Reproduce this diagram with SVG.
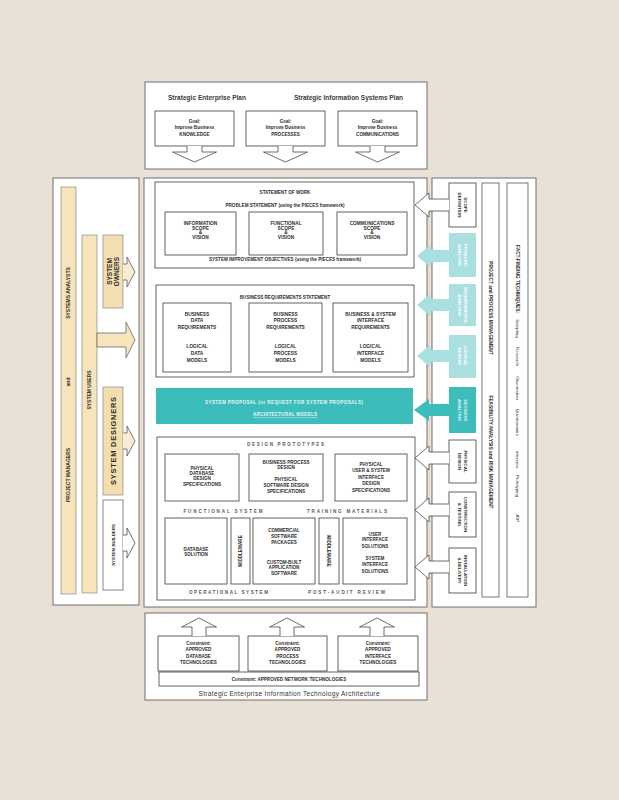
<svg xmlns="http://www.w3.org/2000/svg" width="619" height="800" viewBox="0 0 619 800">
<defs>
<style>
.bg{fill:#e9e1d6}
.panel{fill:#fff;stroke:#6e6e6e;stroke-width:1}
.box{fill:#fff;stroke:#3c3c3c;stroke-width:0.8}
.yel{fill:#f6e4bb;stroke:#8a8a8a;stroke-width:0.7}
.tl{fill:#a9e0df}
.td{fill:#3dbcbc}
.arr{fill:#fff;stroke:#4a4a4a;stroke-width:0.8}
.arry{fill:#f8ecd2;stroke:#5a5a5a;stroke-width:0.8}
text{font-family:"Liberation Sans",Arial,Helvetica,sans-serif;font-weight:bold;fill:#2e2e2e;text-anchor:middle}
.s4{font-size:4.4px}
.s46{font-size:4.6px}
.s48{font-size:4.8px}
.s5{font-size:5px}
.s6{font-size:6.5px}
.sp{fill:#5a5a5a}
.w{fill:#ffffff}
.wt{fill:#e2f6f5}
.fw{font-weight:normal;fill:#333}
</style>
</defs>
<rect class="bg" x="0" y="0" width="619" height="800"/>

<g id="strategic-plans">
<rect class="panel" x="145" y="82" width="282" height="87"/>
<text class="s6" style="fill:#3a3a3a" x="207" y="99.5" textLength="78">Strategic Enterprise Plan</text>
<text class="s6" style="fill:#3a3a3a" x="348.5" y="99.5" textLength="109">Strategic Information Systems Plan</text>
</g>
<g id="goal-knowledge"><rect class="box" x="155" y="111" width="79" height="35"/>
<text class="s46"><tspan x="194.5" y="122.8">Goal:</tspan><tspan x="194.5" y="128.6">Improve Business</tspan><tspan x="194.5" y="136">KNOWLEDGE</tspan></text></g>
<g id="goal-processes"><rect class="box" x="246" y="111" width="79" height="35"/>
<text class="s46"><tspan x="285.5" y="122.8">Goal:</tspan><tspan x="285.5" y="128.6">Improve Business</tspan><tspan x="285.5" y="136">PROCESSES</tspan></text></g>
<g id="goal-communications"><rect class="box" x="338" y="111" width="79" height="35"/>
<text class="s46"><tspan x="377.5" y="122.8">Goal:</tspan><tspan x="377.5" y="128.6">Improve Business</tspan><tspan x="377.5" y="136">COMMUNICATIONS</tspan></text></g>

<g id="left-panel">
<rect class="panel" x="53" y="178" width="86" height="427"/>
</g>
<g id="pm-sa-bar">
<rect class="yel" x="61" y="187" width="15" height="407"/>
<text class="s5" transform="translate(68.5,475) rotate(-90)" x="0" y="1.8">PROJECT MANAGERS</text>
<text class="s5" transform="translate(68.5,382) rotate(-90)" x="0" y="1.8">and</text>
<text class="s5" transform="translate(68.5,293) rotate(-90)" x="0" y="1.8">SYSTEMS ANALYSTS</text>
</g>
<g id="system-users">
<rect class="yel" x="82" y="235" width="15" height="358"/>
<text class="s5" transform="translate(89.5,390) rotate(-90)" x="0" y="1.8">SYSTEM USERS</text>
</g>
<g id="system-owners">
<rect class="yel" x="103" y="235" width="20" height="73" style="fill:#f3deaf"/>
<text style="font-size:6.5px" transform="translate(110,271.5) rotate(-90)"><tspan x="0" y="2.4">SYSTEM</tspan><tspan x="0" y="9">OWNERS</tspan></text>
</g>
<g id="system-designers">
<rect class="yel" x="103" y="387" width="20" height="108" style="fill:#f3deaf"/>
<text style="font-size:7.4px" transform="translate(113,441) rotate(-90)" x="0" y="2.7" textLength="88">SYSTEM DESIGNERS</text>
</g>
<g id="system-builders">
<rect class="box" x="103" y="500" width="20" height="90" style="stroke:#666"/>
<text class="s4" transform="translate(113,545) rotate(-90)" x="0" y="1.6">SYSTEM BUILDERS</text>
</g>

<g id="center-panel">
<rect class="panel" x="144" y="178" width="283" height="429"/>
</g>
<g id="statement-of-work">
<rect class="box" x="155" y="182" width="259" height="86"/>
<text class="s46" x="285" y="194">STATEMENT OF WORK</text>
<text class="s46" x="285" y="207">PROBLEM STATEMENT (using the PIECES framework)</text>
<text class="s46" x="285" y="261">SYSTEM IMPROVEMENT OBJECTIVES (using the PIECES framework)</text>
</g>
<g id="information-scope"><rect class="box" x="165" y="212" width="71" height="43"/>
<text class="s48"><tspan x="200.5" y="225">INFORMATION</tspan><tspan x="200.5" y="229.5">SCOPE</tspan><tspan x="200.5" y="234">&amp;</tspan><tspan x="200.5" y="238.5">VISION</tspan></text></g>
<g id="functional-scope"><rect class="box" x="249" y="212" width="74" height="43"/>
<text class="s48"><tspan x="286" y="225">FUNCTIONAL</tspan><tspan x="286" y="229.5">SCOPE</tspan><tspan x="286" y="234">&amp;</tspan><tspan x="286" y="238.5">VISION</tspan></text></g>
<g id="communications-scope"><rect class="box" x="337" y="212" width="70" height="43"/>
<text class="s48"><tspan x="372" y="225">COMMUNICATIONS</tspan><tspan x="372" y="229.5">SCOPE</tspan><tspan x="372" y="234">&amp;</tspan><tspan x="372" y="238.5">VISION</tspan></text></g>

<g id="business-requirements">
<rect class="box" x="156" y="285" width="258" height="92"/>
<text class="s46" x="285" y="299">BUSINESS REQUIREMENTS STATEMENT</text>
</g>
<g id="data-requirements"><rect class="box" x="163" y="303" width="68" height="69"/>
<text class="s48"><tspan x="197" y="316.2">BUSINESS</tspan><tspan x="197" y="322">DATA</tspan><tspan x="197" y="328.8">REQUIREMENTS</tspan><tspan x="197" y="347.7">LOGICAL</tspan><tspan x="197" y="354.5">DATA</tspan><tspan x="197" y="361.7">MODELS</tspan></text></g>
<g id="process-requirements"><rect class="box" x="249" y="303" width="73" height="69"/>
<text class="s48"><tspan x="285.5" y="316.2">BUSINESS</tspan><tspan x="285.5" y="322">PROCESS</tspan><tspan x="285.5" y="328.8">REQUIREMENTS</tspan><tspan x="285.5" y="347.7">LOGICAL</tspan><tspan x="285.5" y="354.5">PROCESS</tspan><tspan x="285.5" y="361.7">MODELS</tspan></text></g>
<g id="interface-requirements"><rect class="box" x="333" y="303" width="75" height="69"/>
<text class="s48"><tspan x="370.5" y="316.2">BUSINESS &amp; SYSTEM</tspan><tspan x="370.5" y="322">INTERFACE</tspan><tspan x="370.5" y="328.8">REQUIREMENTS</tspan><tspan x="370.5" y="347.7">LOGICAL</tspan><tspan x="370.5" y="354.5">INTERFACE</tspan><tspan x="370.5" y="361.7">MODELS</tspan></text></g>

<g id="system-proposal">
<rect class="td" x="156" y="388" width="257" height="36"/>
<text class="s46 wt" x="284" y="404" textLength="158">SYSTEM PROPOSAL (or REQUEST FOR SYSTEM PROPOSALS)</text>
<text class="s46 wt" x="285" y="416" textLength="64">ARCHITECTURAL MODELS</text>
<line x1="253" y1="417.6" x2="317" y2="417.6" stroke="#e2f6f5" stroke-width="0.5"/>
</g>

<g id="design-prototypes">
<rect class="box" x="157" y="437" width="258" height="163"/>
<text class="s46 sp" x="285.5" y="445.5" textLength="77">DESIGN PROTOTYPES</text>
<text class="s46 sp" x="223" y="512.8" textLength="79">FUNCTIONAL SYSTEM</text>
<text class="s46 sp" x="347" y="512.8" textLength="80">TRAINING MATERIALS</text>
<text class="s46 sp" x="228.5" y="594" textLength="79">OPERATIONAL SYSTEM</text>
<text class="s46 sp" x="346.5" y="594" textLength="77">POST-AUDIT REVIEW</text>
</g>
<g id="database-design"><rect class="box" x="165" y="454" width="74" height="47"/>
<text class="s46"><tspan x="202" y="469.5">PHYSICAL</tspan><tspan x="202" y="474.8">DATABASE</tspan><tspan x="202" y="480">DESIGN</tspan><tspan x="202" y="486">SPECIFICATIONS</tspan></text></g>
<g id="software-design"><rect class="box" x="249" y="454" width="74" height="47"/>
<text class="s46"><tspan x="286" y="463.7">BUSINESS PROCESS</tspan><tspan x="286" y="469.3">DESIGN</tspan><tspan x="286" y="480.5">PHYSICAL</tspan><tspan x="286" y="486.5">SOFTWARE DESIGN</tspan><tspan x="286" y="492.5">SPECIFICATIONS</tspan></text></g>
<g id="interface-design"><rect class="box" x="335" y="454" width="72" height="47"/>
<text class="s46"><tspan x="371" y="465.7">PHYSICAL</tspan><tspan x="371" y="472.3">USER &amp; SYSTEM</tspan><tspan x="371" y="479">INTERFACE</tspan><tspan x="371" y="485">DESIGN</tspan><tspan x="371" y="491.5">SPECIFICATIONS</tspan></text></g>

<g id="database-solution"><rect class="box" x="165" y="518" width="62" height="66"/>
<text class="s46"><tspan x="196" y="550.7">DATABASE</tspan><tspan x="196" y="555.8">SOLUTION</tspan></text></g>
<g id="middleware-1"><rect class="box" x="231" y="518" width="19" height="66"/>
<text class="s46" transform="translate(240.5,551) rotate(-90)" x="0" y="1.6">MIDDLEWARE</text></g>
<g id="software-solution"><rect class="box" x="253" y="518" width="62" height="66"/>
<text class="s46"><tspan x="284" y="531.7">COMMERCIAL</tspan><tspan x="284" y="537.5">SOFTWARE</tspan><tspan x="284" y="543.7">PACKAGES</tspan><tspan x="284" y="563.7">CUSTOM-BUILT</tspan><tspan x="284" y="569.3">APPLICATION</tspan><tspan x="284" y="574.5">SOFTWARE</tspan></text></g>
<g id="middleware-2"><rect class="box" x="319" y="518" width="20" height="66"/>
<text class="s46" transform="translate(329,551) rotate(90)" x="0" y="1.6">MIDDLEWARE</text></g>
<g id="interface-solutions"><rect class="box" x="343" y="518" width="64" height="66"/>
<text class="s46"><tspan x="375" y="535.7">USER</tspan><tspan x="375" y="541">INTERFACE</tspan><tspan x="375" y="547.5">SOLUTIONS</tspan><tspan x="375" y="560">SYSTEM</tspan><tspan x="375" y="566">INTERFACE</tspan><tspan x="375" y="572.5">SOLUTIONS</tspan></text></g>

<g id="right-panel">
<rect class="panel" x="432" y="178" width="104" height="429"/>
</g>
<g id="scope-definition"><rect class="box" x="449" y="183" width="27" height="44"/>
<text class="s4" transform="translate(466,205) rotate(90)"><tspan x="0" y="1.6">SCOPE</tspan><tspan x="0" y="7.6">DEFINITION</tspan></text></g>
<g id="problem-analysis"><rect class="tl" x="449" y="233" width="27" height="44"/>
<text class="s4 w" transform="translate(466,255) rotate(90)"><tspan x="0" y="1.6">PROBLEM</tspan><tspan x="0" y="7.6">ANALYSIS</tspan></text></g>
<g id="requirements-analysis"><rect class="tl" x="449" y="284" width="27" height="42"/>
<text class="s4 w" transform="translate(466,305) rotate(90)"><tspan x="0" y="1.6">REQUIREMENTS</tspan><tspan x="0" y="7.6">ANALYSIS</tspan></text></g>
<g id="logical-design"><rect class="tl" x="449" y="335" width="27" height="43"/>
<text class="s4 w" transform="translate(466,356) rotate(90)"><tspan x="0" y="1.6">LOGICAL</tspan><tspan x="0" y="7.6">DESIGN</tspan></text></g>
<g id="decision-analysis"><rect class="td" x="449" y="387" width="27" height="46"/>
<text class="s4 wt" transform="translate(466,410) rotate(90)"><tspan x="0" y="1.6">DECISION</tspan><tspan x="0" y="7.6">ANALYSIS</tspan></text></g>
<g id="physical-design"><rect class="box" x="449" y="440" width="27" height="43"/>
<text class="s4" transform="translate(466,461.5) rotate(90)"><tspan x="0" y="1.6">PHYSICAL</tspan><tspan x="0" y="7.6">DESIGN</tspan></text></g>
<g id="construction-testing"><rect class="box" x="449" y="492" width="27" height="45"/>
<text class="s4" transform="translate(466,514.5) rotate(90)"><tspan x="0" y="1.6">CONSTRUCTION</tspan><tspan x="0" y="7.6">&amp; TESTING</tspan></text></g>
<g id="installation-delivery"><rect class="box" x="449" y="548" width="27" height="45"/>
<text class="s4" transform="translate(466,570.5) rotate(90)"><tspan x="0" y="1.6">INSTALLATION</tspan><tspan x="0" y="7.6">&amp; DELIVERY</tspan></text></g>
<g id="project-process-management"><rect class="box" x="482" y="183" width="17" height="414" style="stroke:#555"/>
<text class="s48" transform="translate(490.5,308) rotate(90)" x="0" y="1.7">PROJECT and PROCESS MANAGEMENT</text>
<text class="s48" transform="translate(490.5,452) rotate(90)" x="0" y="1.7">FEASIBILITY ANALYSIS and RISK MANAGEMENT</text>
</g>
<g id="fact-finding"><rect class="box" x="507" y="183" width="21" height="414" style="stroke:#555"/>
<text class="s48" transform="translate(517.5,279) rotate(90)" x="0" y="1.7">FACT-FINDING TECHNIQUES:</text>
<text class="s4 fw" transform="translate(517.5,328.5) rotate(90)" x="0" y="1.6">Sampling</text>
<text class="s4 fw" transform="translate(517.5,356.5) rotate(90)" x="0" y="1.6">Research</text>
<text class="s4 fw" transform="translate(517.5,388) rotate(90)" x="0" y="1.6">Observation</text>
<text class="s4 fw" transform="translate(517.5,422.5) rotate(90)" x="0" y="1.6">Questionnaire</text>
<text class="s4 fw" transform="translate(517.5,459.5) rotate(90)" x="0" y="1.6">Interview</text>
<text class="s4 fw" transform="translate(517.5,486) rotate(90)" x="0" y="1.6">Prototyping</text>
<text class="s4 fw" transform="translate(517.5,518) rotate(90)" x="0" y="1.6">JRP</text>
</g>

<g id="it-architecture">
<rect class="panel" x="145" y="613" width="282" height="87"/>
<text class="s6" style="font-weight:normal;fill:#333" x="289" y="696.3" textLength="181">Strategic Enterprise Information Technology Architecture</text>
</g>
<g id="constraint-database"><rect class="box" x="158" y="636" width="81" height="35"/>
<text class="s46"><tspan x="198.5" y="645">Constraint:</tspan><tspan x="198.5" y="651">APPROVED</tspan><tspan x="198.5" y="657.5">DATABASE</tspan><tspan x="198.5" y="664">TECHNOLOGIES</tspan></text></g>
<g id="constraint-process"><rect class="box" x="248" y="636" width="79" height="35"/>
<text class="s46"><tspan x="287.5" y="645">Constraint:</tspan><tspan x="287.5" y="651">APPROVED</tspan><tspan x="287.5" y="657.5">PROCESS</tspan><tspan x="287.5" y="664">TECHNOLOGIES</tspan></text></g>
<g id="constraint-interface"><rect class="box" x="338" y="636" width="80" height="35"/>
<text class="s46"><tspan x="378" y="645">Constraint:</tspan><tspan x="378" y="651">APPROVED</tspan><tspan x="378" y="657.5">INTERFACE</tspan><tspan x="378" y="664">TECHNOLOGIES</tspan></text></g>
<g id="constraint-network"><rect class="box" x="159" y="672" width="260" height="14"/>
<text class="s46" x="289" y="680.8">Constraint: APPROVED NETWORK TECHNOLOGIES</text></g>

<g id="connectors">
<path class="arr" d="M187,146 V152 H172.5 L194.5,162 L216.5,152 H202 V146"/>
<path class="arr" d="M278,146 V152 H263.5 L285.5,162 L307.5,152 H293 V146"/>
<path class="arr" d="M370,146 V152 H355.5 L377.5,162 L399.5,152 H385 V146"/>

<path class="arr" d="M192,636 V627 H181.5 L199,618 L216.5,627 H206 V636"/>
<path class="arr" d="M280,636 V627 H269.5 L287,618 L304.5,627 H294 V636"/>
<path class="arr" d="M370,636 V627 H359.5 L377,618 L394.5,627 H384 V636"/>

<path class="arry" d="M123,264 H127 V257 L135,272 L127,287 V280 H123"/>
<path class="yel" style="stroke:#6a6a6a;stroke-width:0.8" d="M97,333 H126 V322 L135,340 L126,358 V347 H97 Z"/>
<path class="arry" d="M123,433 H127 V426 L135,441 L127,456 V449 H123"/>
<path class="arr" d="M123,535 H127 V528 L135,543 L127,558 V551 H123"/>

<path class="arr" d="M449,199 H429 V193 L415,205 L429,217 V211 H449"/>
<path class="tl" d="M449,250 H430 V245 L417,256 L430,267 V262 H449 Z"/>
<path class="tl" d="M449,299 H430 V294 L417,305 L430,316 V311 H449 Z"/>
<path class="tl" d="M449,350 H430 V345 L417,356 L430,367 V362 H449 Z"/>
<path class="td" d="M449,404 H429 V399 L414,410 L429,421 V416 H449 Z"/>
<path class="arr" d="M449,452 H429 V446 L415,458 L429,470 V464 H449"/>
<path class="arr" d="M449,504 H429 V498 L415,510 L429,522 V516 H449"/>
<path class="arr" d="M449,561 H429 V555 L415,567 L429,579 V573 H449"/>
</g>
</svg>
